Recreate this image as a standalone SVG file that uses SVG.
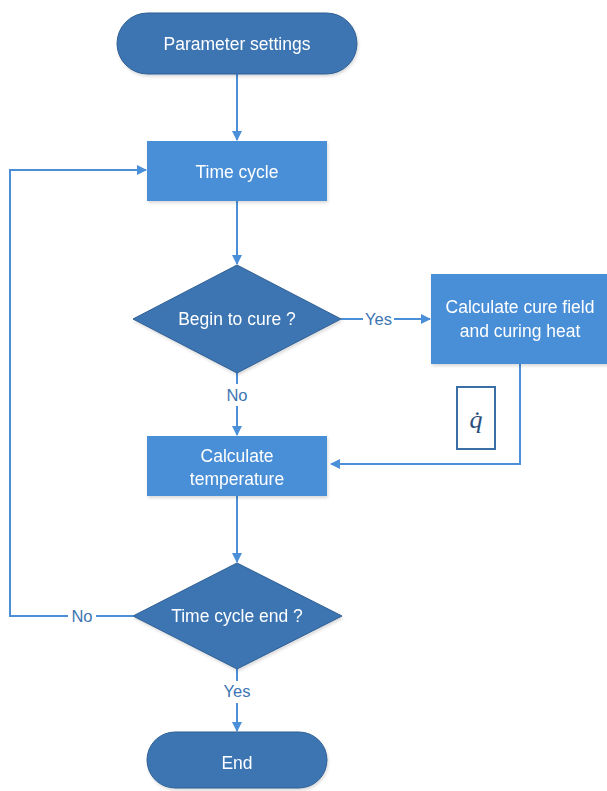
<svg xmlns="http://www.w3.org/2000/svg" width="607" height="791" viewBox="0 0 607 791">
<style>
.term{fill:#3c75b3;stroke:#2f5f94;stroke-width:1}
.proc{fill:#4a8fd7}
.dec{fill:#3c75b3;stroke:#2f5f94;stroke-width:1}
.t{font-family:"Liberation Sans",Arial,sans-serif;font-size:17.5px;fill:#ffffff;text-anchor:middle}
.lbl{font-family:"Liberation Sans",Arial,sans-serif;font-size:16.5px;fill:#3c75b3;text-anchor:middle}
.ln{fill:none;stroke:#4a8fd7;stroke-width:2}
</style>
<defs>
<marker id="ah" markerWidth="10" markerHeight="10" refX="9" refY="5" orient="auto" markerUnits="userSpaceOnUse"><path d="M0,0 L10,5 L0,10 z" fill="#4a8fd7"/></marker>
<filter id="sh" x="-10%" y="-10%" width="130%" height="130%"><feDropShadow dx="1" dy="2" stdDeviation="1.5" flood-color="#000" flood-opacity="0.15"/></filter>
</defs>
<rect width="607" height="791" fill="#ffffff"/>
<g id="connectors">
<line class="ln" x1="237" y1="74" x2="237" y2="140" marker-end="url(#ah)"/>
<line class="ln" x1="237" y1="201" x2="237" y2="264" marker-end="url(#ah)"/>
<line class="ln" x1="341" y1="319" x2="363" y2="319"/>
<line class="ln" x1="394" y1="319" x2="430" y2="319" marker-end="url(#ah)"/>
<text class="lbl" x="378.5" y="325">Yes</text>
<line class="ln" x1="237" y1="373" x2="237" y2="384"/>
<line class="ln" x1="237" y1="406" x2="237" y2="435" marker-end="url(#ah)"/>
<text class="lbl" x="237" y="401">No</text>
<polyline class="ln" points="520,364 520,464 331,464" marker-end="url(#ah)"/>
<line class="ln" x1="237" y1="496" x2="237" y2="562" marker-end="url(#ah)"/>
<line class="ln" x1="133" y1="616" x2="96" y2="616"/>
<polyline class="ln" points="68,616 10,616 10,170 146,170" marker-end="url(#ah)"/>
<text class="lbl" x="82" y="622">No</text>
<line class="ln" x1="237" y1="669" x2="237" y2="681"/>
<line class="ln" x1="237" y1="703" x2="237" y2="731" marker-end="url(#ah)"/>
<text class="lbl" x="237" y="697">Yes</text>
</g>
<g id="n_params" filter="url(#sh)"><rect class="term" x="117" y="13" width="240" height="61" rx="30.5"/><text class="t" x="237" y="50">Parameter settings</text></g>
<g id="n_timecycle" filter="url(#sh)"><rect class="proc" x="147" y="141" width="180" height="60"/><text class="t" x="237" y="178">Time cycle</text></g>
<g id="n_begin" filter="url(#sh)"><polygon class="dec" points="237,265 341,319 237,373 133,319"/><text class="t" x="237" y="325">Begin to cure ?</text></g>
<g id="n_curefield" filter="url(#sh)"><rect class="proc" x="431" y="274" width="180" height="90"/><text class="t" x="520" y="313">Calculate cure field</text><text class="t" x="520" y="337">and curing heat</text></g>
<g id="n_qdot"><rect x="457" y="387" width="38" height="62" fill="#ffffff" stroke="#3a6ea5" stroke-width="2"/><text x="476" y="428" font-family="Liberation Serif,serif" font-style="italic" font-size="26" fill="#2a4f7a" text-anchor="middle">q̇</text></g>
<g id="n_temp" filter="url(#sh)"><rect class="proc" x="147" y="436" width="180" height="60"/><text class="t" x="237" y="462">Calculate</text><text class="t" x="237" y="485">temperature</text></g>
<g id="n_end_q" filter="url(#sh)"><polygon class="dec" points="237,563 342,616 237,669 133,616"/><text class="t" x="237" y="622">Time cycle end ?</text></g>
<g id="n_end" filter="url(#sh)"><rect class="term" x="147" y="732" width="180" height="56" rx="28"/><text class="t" x="237" y="769">End</text></g>
</svg>
